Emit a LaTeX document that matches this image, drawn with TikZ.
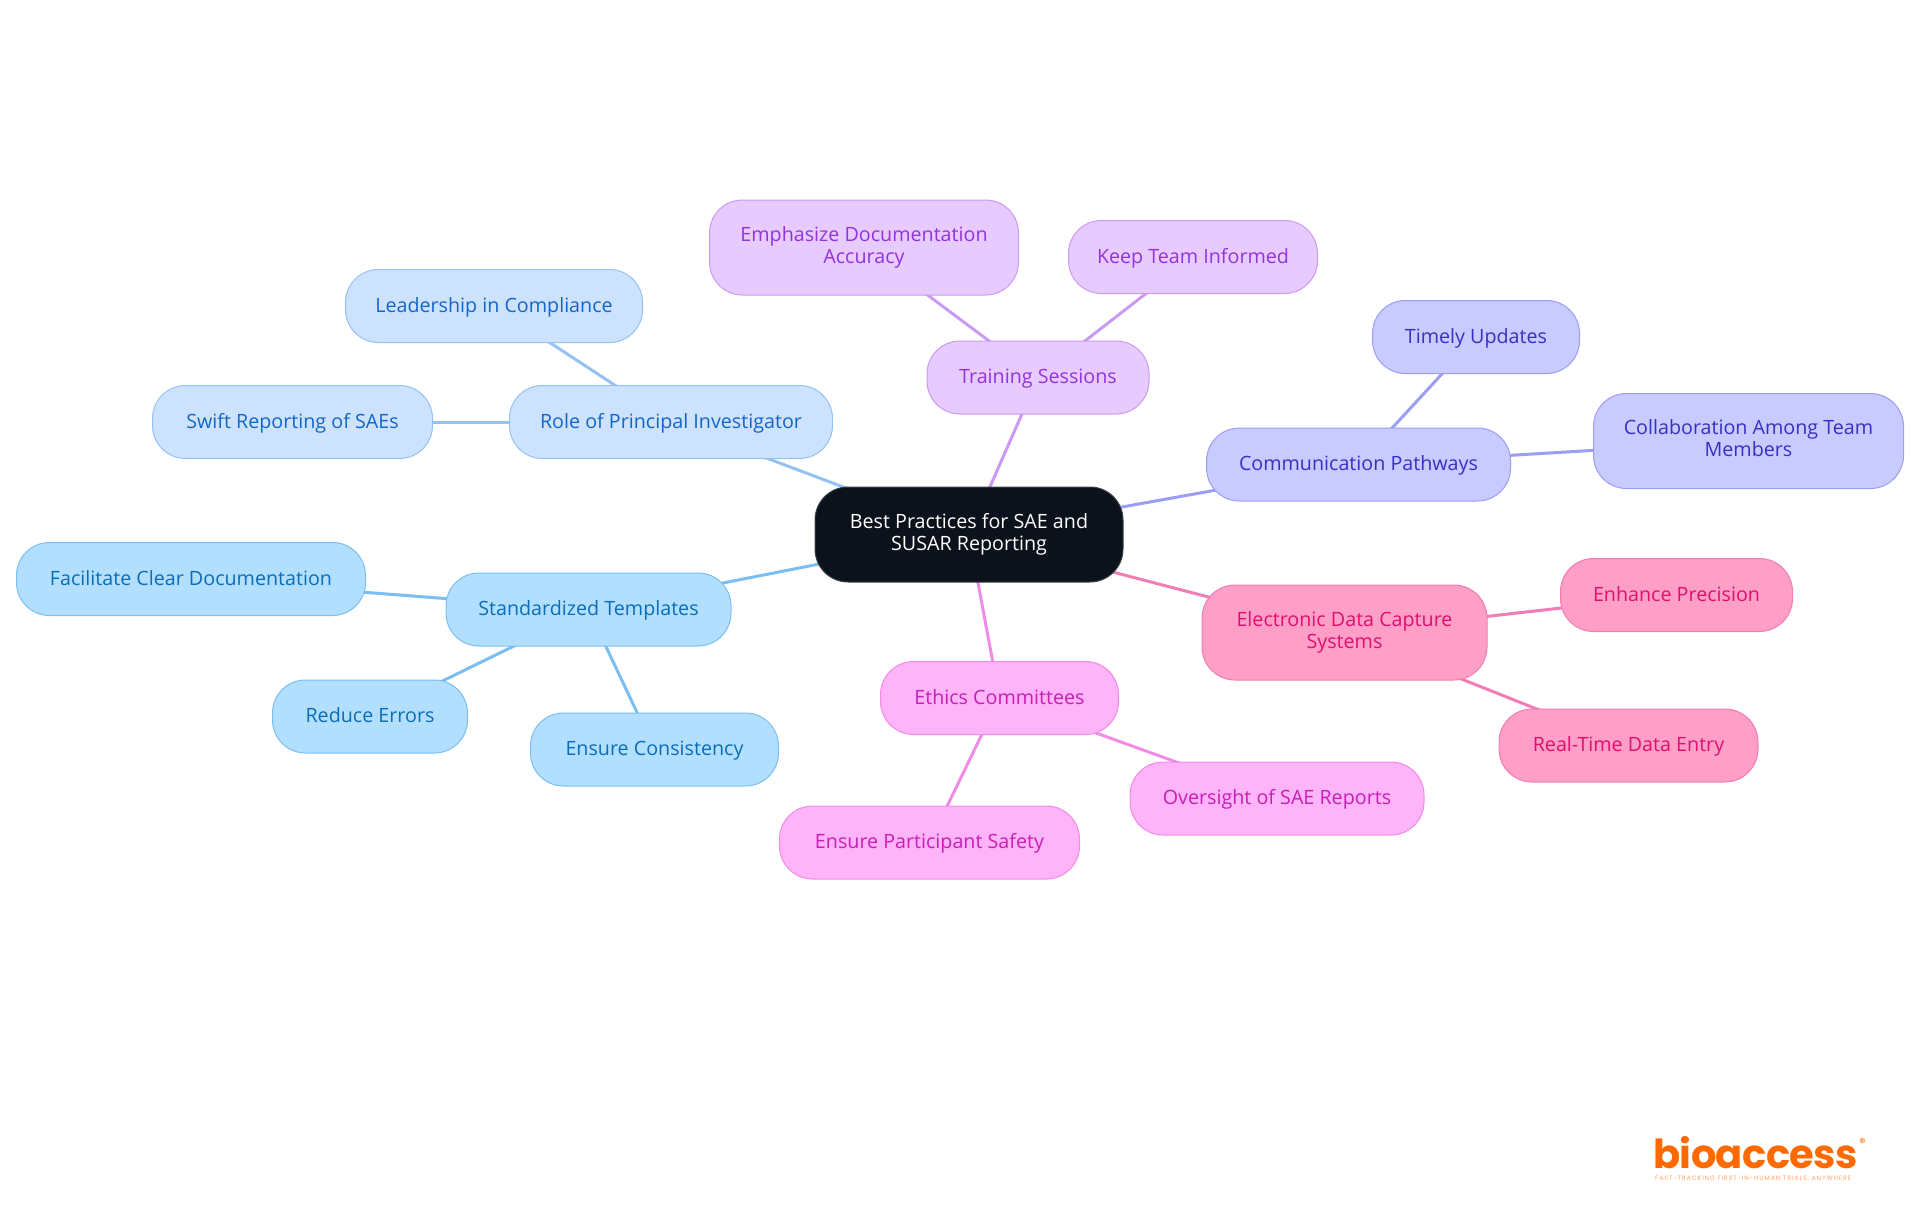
\documentclass[tikz,border=0pt]{standalone}
\usepackage{fontspec}
\setmainfont{Open Sans}
\newfontfamily\logofont[LetterSpace=-1.5]{Poppins}
\newfontfamily\tagfont[LetterSpace=13]{Poppins}
\usetikzlibrary{backgrounds}
\definecolor{rootfill}{HTML}{0B121B}
\definecolor{rootline}{HTML}{3C424A}
\definecolor{pifill}{HTML}{CDE3FD}
\definecolor{piline}{HTML}{93C2F3}
\definecolor{pitext}{HTML}{1366C9}
\definecolor{tplfill}{HTML}{B3DFFF}
\definecolor{tplline}{HTML}{7ABEF2}
\definecolor{tpltext}{HTML}{0A6DB8}
\definecolor{trainfill}{HTML}{E7CBFF}
\definecolor{trainline}{HTML}{CB9AF2}
\definecolor{traintext}{HTML}{9333DD}
\definecolor{commfill}{HTML}{C8CBFF}
\definecolor{commline}{HTML}{9C9DF5}
\definecolor{commtext}{HTML}{3730C4}
\definecolor{edcfill}{HTML}{FF9EC7}
\definecolor{edcline}{HTML}{F07EB4}
\definecolor{edctext}{HTML}{E0106F}
\definecolor{ethfill}{HTML}{FFB3F8}
\definecolor{ethline}{HTML}{F08BE6}
\definecolor{ethtext}{HTML}{C81FB8}
\definecolor{logoorange}{HTML}{FF6A00}
\tikzset{
	mapnode/.style={rectangle, rounded corners=33pt, line width=1pt, align=center, inner sep=0pt, font=\fontsize{19.7}{22}\selectfont, execute at begin node={\rule{0pt}{17pt}}, execute at end node={\rule[-5pt]{0pt}{5pt}}},
	rootnode/.style={mapnode, fill=rootfill, draw=rootline, text=white},
	pinode/.style={mapnode, fill=pifill, draw=piline, text=pitext},
	tplnode/.style={mapnode, fill=tplfill, draw=tplline, text=tpltext},
	trainnode/.style={mapnode, fill=trainfill, draw=trainline, text=traintext},
	commnode/.style={mapnode, fill=commfill, draw=commline, text=commtext},
	edcnode/.style={mapnode, fill=edcfill, draw=edcline, text=edctext},
	ethnode/.style={mapnode, fill=ethfill, draw=ethline, text=ethtext},
	mapedge/.style={line width=3pt}
}
\begin{document}
\begin{tikzpicture}[x=1pt, y=-1pt]
	\useasboundingbox (0,0) rectangle (1920,1215);
	\node[rootnode, minimum width=308pt, minimum height=95pt] (root) at (969,534.5) {Best Practices for SAE and\\SUSAR Reporting};
	\node[pinode, minimum width=323pt, minimum height=73pt] (role) at (671,422) {Role of Principal Investigator};
	\node[pinode, minimum width=297pt, minimum height=73pt] (leader) at (494,306) {Leadership in Compliance};
	\node[pinode, minimum width=280pt, minimum height=73pt] (swift) at (292.5,422) {Swift Reporting of SAEs};
	\node[tplnode, minimum width=285pt, minimum height=73pt] (tpl) at (588.5,609.5) {Standardized Templates};
	\node[tplnode, minimum width=349pt, minimum height=73pt] (clear) at (191,579) {Facilitate Clear Documentation};
	\node[tplnode, minimum width=195pt, minimum height=73pt] (errors) at (370,716.5) {Reduce Errors};
	\node[tplnode, minimum width=248pt, minimum height=73pt] (consist) at (654.5,749.5) {Ensure Consistency};
	\node[trainnode, minimum width=222pt, minimum height=73pt] (train) at (1038,377.5) {Training Sessions};
	\node[trainnode, minimum width=309pt, minimum height=95pt] (accuracy) at (864,247.5) {Emphasize Documentation\\Accuracy};
	\node[trainnode, minimum width=249pt, minimum height=73pt] (inform) at (1193,257) {Keep Team Informed};
	\node[commnode, minimum width=304pt, minimum height=73pt] (comm) at (1358.5,464.5) {Communication Pathways};
	\node[commnode, minimum width=207pt, minimum height=73pt] (timely) at (1476,337) {Timely Updates};
	\node[commnode, minimum width=310pt, minimum height=95pt] (collab) at (1748.5,441) {Collaboration Among Team\\Members};
	\node[edcnode, minimum width=285pt, minimum height=95pt] (edc) at (1344.5,632.5) {Electronic Data Capture\\Systems};
	\node[edcnode, minimum width=232pt, minimum height=73pt] (precise) at (1676.5,595) {Enhance Precision};
	\node[edcnode, minimum width=259pt, minimum height=73pt] (realtime) at (1628.5,745.5) {Real-Time Data Entry};
	\node[ethnode, minimum width=238pt, minimum height=73pt] (ethics) at (999.5,698) {Ethics Committees};
	\node[ethnode, minimum width=294pt, minimum height=73pt] (oversight) at (1277,798.5) {Oversight of SAE Reports};
	\node[ethnode, minimum width=300pt, minimum height=73pt] (safety) at (929.5,842.5) {Ensure Participant Safety};
	\node[inner sep=0pt, text=logoorange, font=\logofont\bfseries\fontsize{40}{40}\selectfont, anchor=base west] (logo) at (1653,1168) {bioaccess};
	\node[inner sep=0pt, text=logoorange, font=\logofont\fontsize{13}{13}\selectfont, anchor=base west] (regmark) at (1859,1147) {®};
	\node[inner sep=0pt, text=logoorange!60, font=\tagfont\fontsize{6.4}{6.4}\selectfont, anchor=base west] (tagline) at (1655,1180) {FAST-TRACKING FIRST-IN-HUMAN TRIALS, ANYWHERE};
	\begin{scope}[on background layer]
		\draw[mapedge, piline] (root.center)--(role.center);
		\draw[mapedge, piline] (role.center)--(leader.center);
		\draw[mapedge, piline] (role.center)--(swift.center);
		\draw[mapedge, tplline] (root.center)--(tpl.center);
		\draw[mapedge, tplline] (tpl.center)--(clear.center);
		\draw[mapedge, tplline] (tpl.center)--(errors.center);
		\draw[mapedge, tplline] (tpl.center)--(consist.center);
		\draw[mapedge, trainline] (root.center)--(train.center);
		\draw[mapedge, trainline] (train.center)--(accuracy.center);
		\draw[mapedge, trainline] (train.center)--(inform.center);
		\draw[mapedge, commline] (root.center)--(comm.center);
		\draw[mapedge, commline] (comm.center)--(timely.center);
		\draw[mapedge, commline] (comm.center)--(collab.center);
		\draw[mapedge, edcline] (root.center)--(edc.center);
		\draw[mapedge, edcline] (edc.center)--(precise.center);
		\draw[mapedge, edcline] (edc.center)--(realtime.center);
		\draw[mapedge, ethline] (root.center)--(ethics.center);
		\draw[mapedge, ethline] (ethics.center)--(oversight.center);
		\draw[mapedge, ethline] (ethics.center)--(safety.center);
	\end{scope}
\end{tikzpicture}
\end{document}
